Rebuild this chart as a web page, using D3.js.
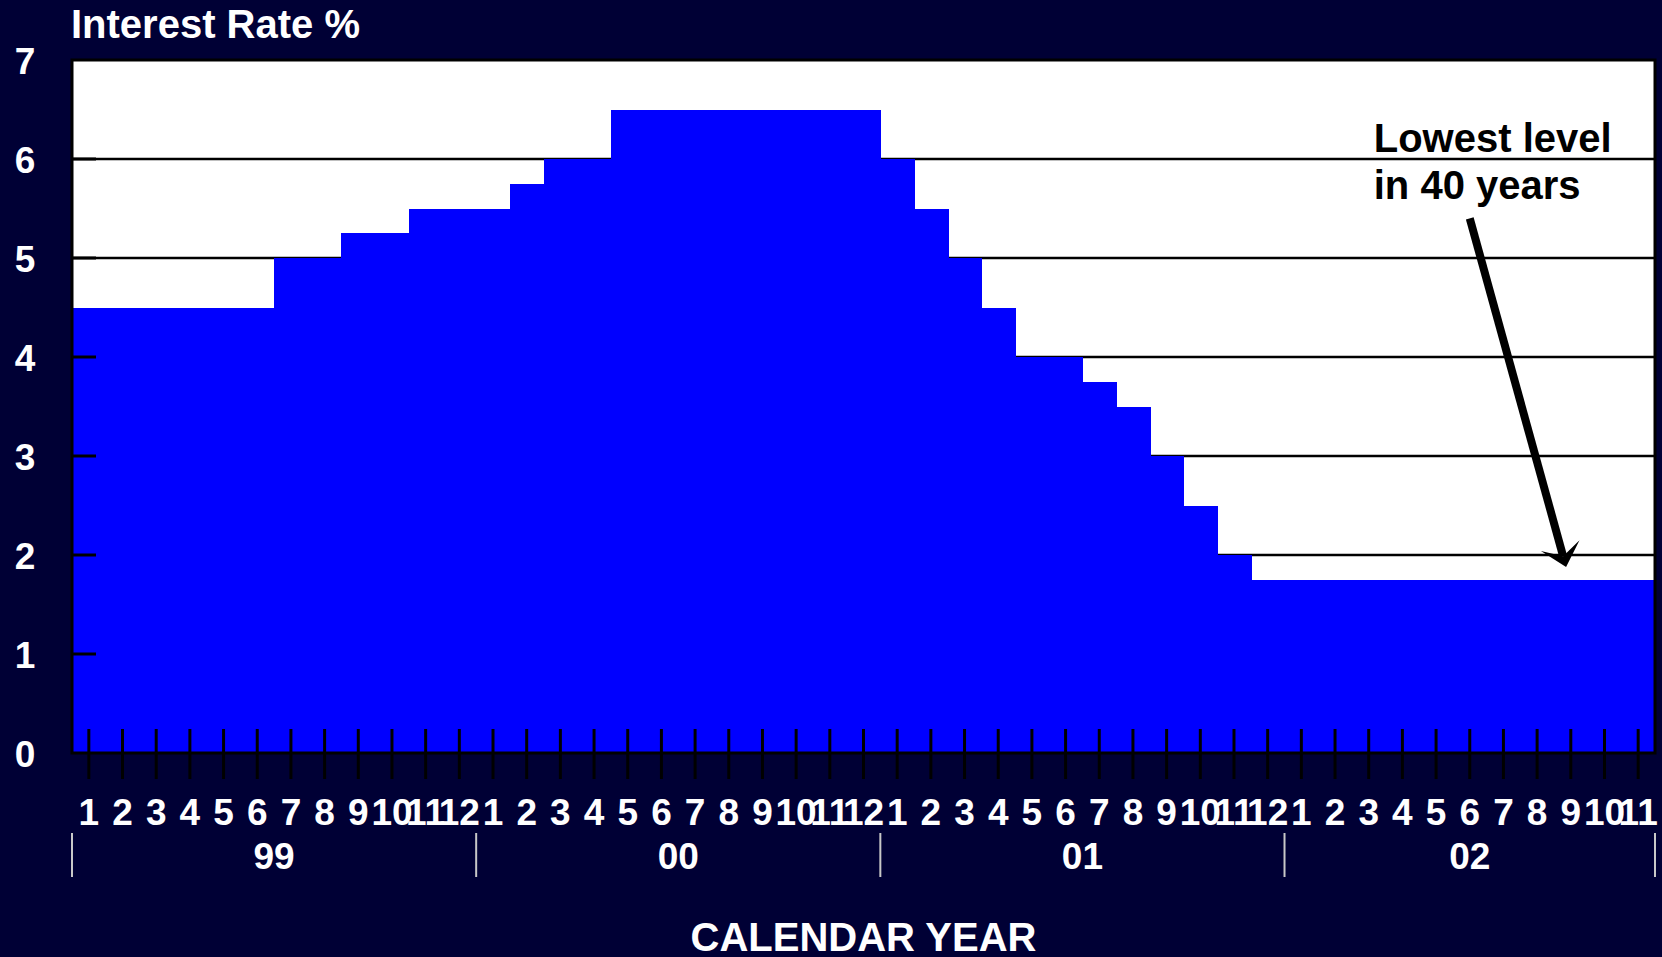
<!DOCTYPE html>
<html>
<head>
<meta charset="utf-8">
<script src="https://cdn.jsdelivr.net/npm/d3@7"></script>
<style>
  body { margin: 0; background: #000035; }
  text { font-family: "Liberation Sans", Arial, sans-serif; font-weight: bold; fill: #fff; }
</style>
</head>
<body>
<script>
// Monthly interest rate, Jan 99 .. Nov 02
var rates = [4.5, 4.5, 4.5, 4.5, 4.5, 4.5, 5.0, 5.0, 5.25, 5.25, 5.5, 5.5,
             5.5, 5.75, 6.0, 6.0, 6.5, 6.5, 6.5, 6.5, 6.5, 6.5, 6.5, 6.5,
             6.0, 5.5, 5.0, 4.5, 4.0, 4.0, 3.75, 3.5, 3.0, 2.5, 2.0, 1.75,
             1.75, 1.75, 1.75, 1.75, 1.75, 1.75, 1.75, 1.75, 1.75, 1.75, 1.75];
var monthLabels = ["1","2","3","4","5","6","7","8","9","10","11","12",
                   "1","2","3","4","5","6","7","8","9","10","11","12",
                   "1","2","3","4","5","6","7","8","9","10","11","12",
                   "1","2","3","4","5","6","7","8","9","10","11"];
var years = ["99", "00", "01", "02"];
var yearMonths = [12, 12, 12, 11];
var yTicks = [0, 1, 2, 3, 4, 5, 6, 7];
var gridValues = [1, 2, 3, 4, 5, 6];
var noteLines = ["Lowest level", "in 40 years"];
// annotation anchors in data units (month index, rate)
var notePos = [38.65, 6.07];
var arrowFrom = [41.5, 5.4];
var arrowTo = [44.36, 1.88];

var width = 1662, height = 957;
// plot box (note: "top" is a reserved window prop, so prefix these)
var plotL = 72, plotR = 1655, plotT = 60, plotB = 753;

var svg = d3.select("body").append("svg")
    .attr("width", width)
    .attr("height", height);

var x = d3.scaleBand().domain(d3.range(rates.length)).range([plotL, plotR]).padding(0);
var xm = d3.scaleLinear().domain([0, rates.length]).range([plotL, plotR]);
var y = d3.scaleLinear().domain([0, 7]).range([plotB, plotT]);

// plot background
svg.append("rect")
    .attr("x", plotL).attr("y", plotT)
    .attr("width", plotR - plotL).attr("height", plotB - plotT)
    .attr("fill", "#fff");

// gridlines behind the bars
svg.selectAll(".grid")
    .data(gridValues)
    .enter().append("line")
    .attr("x1", plotL).attr("x2", plotR)
    .attr("y1", function(d) { return y(d); })
    .attr("y2", function(d) { return y(d); })
    .attr("stroke", "#000")
    .attr("stroke-width", 2.5);

// bars
svg.selectAll(".bar")
    .data(rates)
    .enter().append("rect")
    .attr("x", function(d, i) { return x(i); })
    .attr("width", x.bandwidth() + 1)
    .attr("y", function(d) { return y(d); })
    .attr("height", function(d) { return y(0) - y(d); })
    .attr("shape-rendering", "crispEdges")
    .attr("fill", "#0000ff");

// y ticks (inward) and labels
svg.selectAll(".ytick")
    .data(gridValues)
    .enter().append("line")
    .attr("x1", plotL).attr("x2", plotL + 24)
    .attr("y1", function(d) { return y(d); })
    .attr("y2", function(d) { return y(d); })
    .attr("stroke", "#000")
    .attr("stroke-width", 3);

svg.selectAll(".ylabel")
    .data(yTicks)
    .enter().append("text")
    .attr("x", 25)
    .attr("y", function(d) { return y(d); })
    .attr("dy", "0.37em")
    .attr("text-anchor", "middle")
    .style("font-size", "37px")
    .text(function(d) { return d; });

// x ticks, crossing the axis
svg.selectAll(".xtick")
    .data(rates)
    .enter().append("line")
    .attr("x1", function(d, i) { return x(i) + x.bandwidth() / 2; })
    .attr("x2", function(d, i) { return x(i) + x.bandwidth() / 2; })
    .attr("y1", plotB - 24).attr("y2", plotB + 26)
    .attr("stroke", "#000")
    .attr("stroke-width", 3);

// frame
svg.append("rect")
    .attr("x", plotL).attr("y", plotT)
    .attr("width", plotR - plotL).attr("height", plotB - plotT)
    .attr("fill", "none")
    .attr("stroke", "#000")
    .attr("stroke-width", 3);

// month labels
svg.selectAll(".mlabel")
    .data(monthLabels)
    .enter().append("text")
    .attr("x", function(d, i) { return x(i) + x.bandwidth() / 2; })
    .attr("y", 825)
    .attr("text-anchor", "middle")
    .style("font-size", "37px")
    .text(function(d) { return d; });

// year groups
var yearStart = [];
var acc = 0;
for (var k = 0; k < years.length; k++) {
  yearStart.push(acc);
  acc += yearMonths[k];
}
var sepIdx = yearStart.concat([acc]);

svg.selectAll(".ysep")
    .data(sepIdx)
    .enter().append("line")
    .attr("x1", function(d) { return xm(d); })
    .attr("x2", function(d) { return xm(d); })
    .attr("y1", 833).attr("y2", 877)
    .attr("stroke", "#c8c8c8")
    .attr("stroke-width", 2);

svg.selectAll(".yearlabel")
    .data(years)
    .enter().append("text")
    .attr("x", function(d, i) { return xm(yearStart[i] + yearMonths[i] / 2); })
    .attr("y", 869)
    .attr("text-anchor", "middle")
    .style("font-size", "37px")
    .text(function(d) { return d; });

// titles
svg.append("text")
    .attr("x", 71).attr("y", 38)
    .style("font-size", "40px")
    .text("Interest Rate %");

svg.append("text")
    .attr("x", (plotL + plotR) / 2).attr("y", 951)
    .attr("text-anchor", "middle")
    .style("font-size", "40px")
    .text("CALENDAR YEAR");

// annotation
svg.selectAll(".note")
    .data(noteLines)
    .enter().append("text")
    .attr("x", xm(notePos[0]))
    .attr("y", function(d, i) { return y(notePos[1]) + i * 47; })
    .style("font-size", "40px")
    .style("fill", "#000")
    .text(function(d) { return d; });

var x0 = xm(arrowFrom[0]), y0 = y(arrowFrom[1]);
var x1 = xm(arrowTo[0]), y1 = y(arrowTo[1]);
var len = Math.sqrt((x1 - x0) * (x1 - x0) + (y1 - y0) * (y1 - y0));
var ux = (x1 - x0) / len, uy = (y1 - y0) / len;
var px = -uy, py = ux;

svg.append("line")
    .attr("x1", x0).attr("y1", y0)
    .attr("x2", x1 - 12 * ux).attr("y2", y1 - 12 * uy)
    .attr("stroke", "#000")
    .attr("stroke-width", 8);

var head = [
  [x1, y1],
  [x1 - 22 * ux + 20 * px, y1 - 22 * uy + 20 * py],
  [x1 - 11 * ux, y1 - 11 * uy],
  [x1 - 22 * ux - 20 * px, y1 - 22 * uy - 20 * py]
];
svg.append("path")
    .attr("d", d3.line()(head) + "Z")
    .attr("fill", "#000");
</script>
</body>
</html>
